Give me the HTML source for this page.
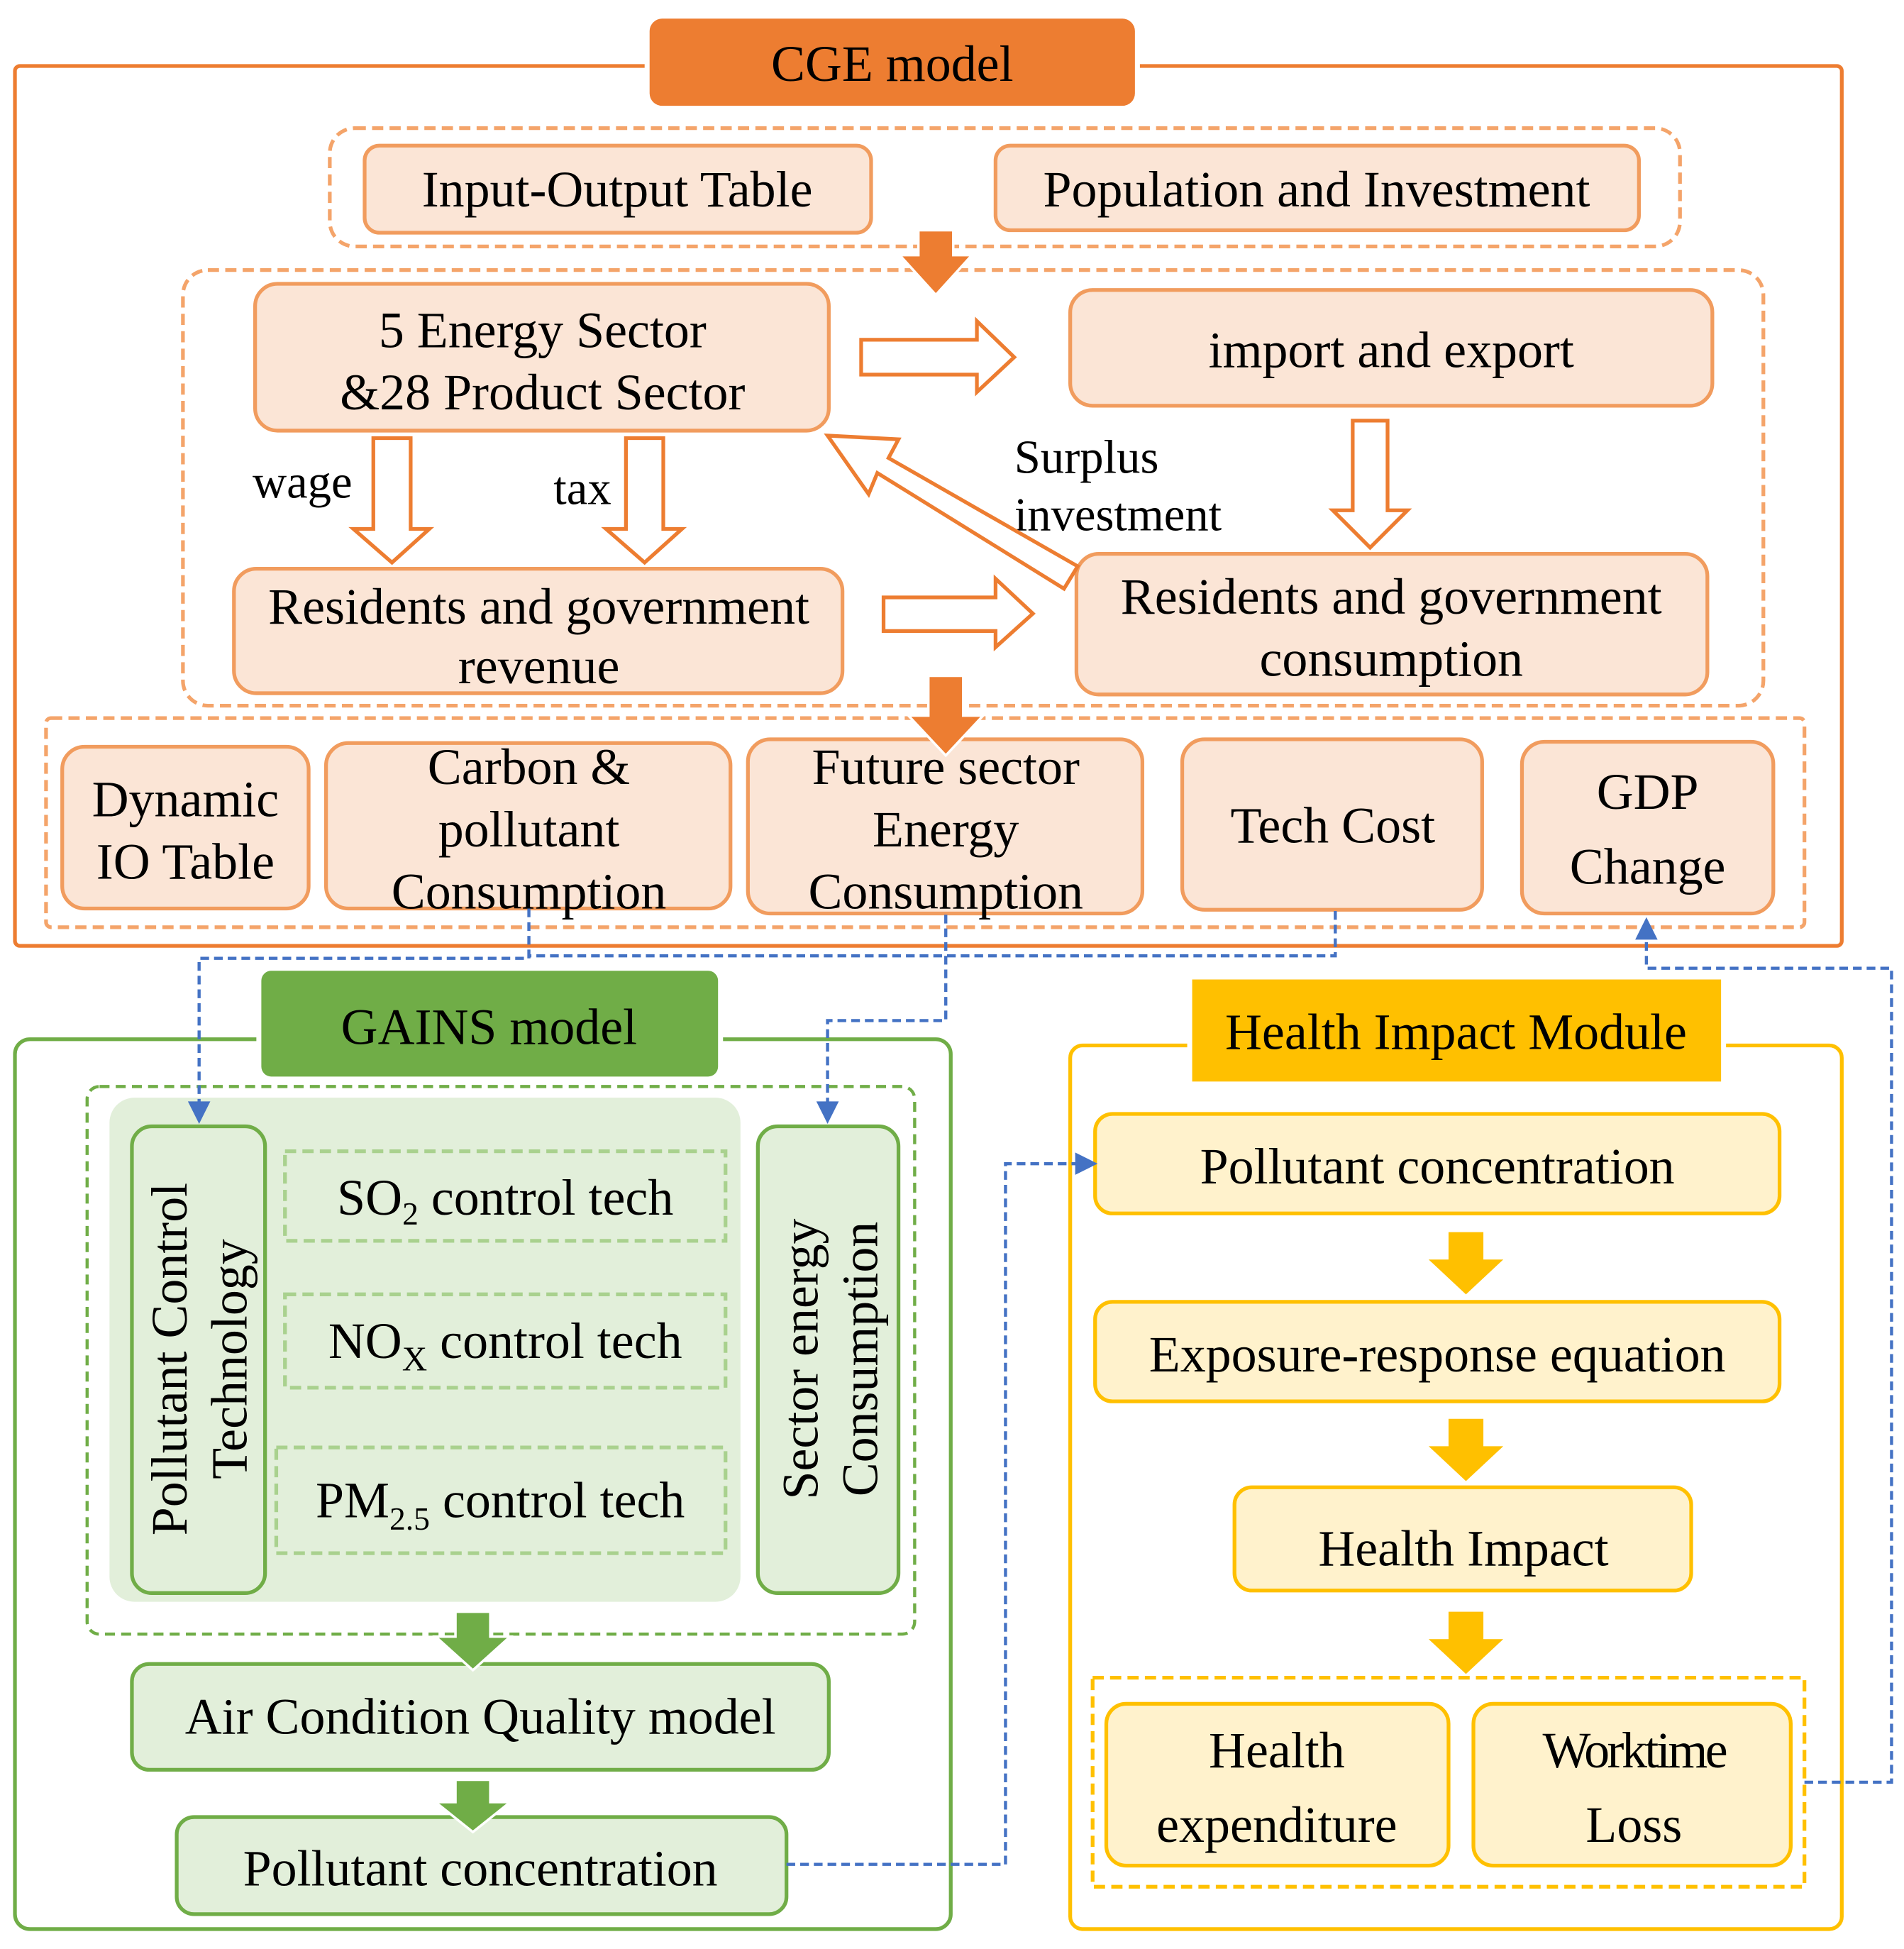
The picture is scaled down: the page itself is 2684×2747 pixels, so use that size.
<!DOCTYPE html>
<html><head><meta charset="utf-8"><style>html,body{margin:0;padding:0;background:#fff}svg{display:block}</style></head>
<body>
<svg width="2684" height="2747" viewBox="0 0 1530 1566" preserveAspectRatio="none" xmlns="http://www.w3.org/2000/svg" font-family="'Liberation Serif', serif" font-size="41" text-anchor="middle" fill="#000">
<!-- CGE -->
<rect x="12" y="53" width="1468" height="707" rx="4" fill="none" stroke="#ED7D31" stroke-width="3"/>
<rect x="518" y="12" width="398" height="76" fill="#fff"/>
<rect x="522" y="15" width="390" height="70" rx="10" fill="#ED7D31"/>
<text x="717" y="65">CGE model</text>
<g fill="none" stroke="#F4A46A" stroke-width="3" stroke-dasharray="9,5">
<rect x="265" y="103" width="1085" height="95" rx="20"/>
<rect x="147" y="217" width="1270" height="350" rx="20"/>
<rect x="37" y="577" width="1413" height="168" rx="4"/>
</g>
<g fill="#FBE5D6" stroke="#F19C5E" stroke-width="3">
<rect x="293" y="117" width="407" height="70" rx="12"/>
<rect x="800" y="117" width="517" height="68" rx="12"/>
<rect x="205" y="228" width="461" height="118" rx="18"/>
<rect x="860" y="233" width="516" height="93" rx="18"/>
<rect x="188" y="457" width="489" height="100" rx="18"/>
<rect x="865" y="445" width="507" height="113" rx="18"/>
<rect x="50" y="600" width="198" height="130" rx="18"/>
<rect x="262" y="597" width="325" height="133" rx="18"/>
<rect x="601" y="594" width="317" height="140" rx="18"/>
<rect x="950" y="594" width="241" height="137" rx="18"/>
<rect x="1223" y="596" width="202" height="138" rx="18"/>
</g>
<text x="496" y="166">Input-Output Table</text>
<text x="1058" y="166">Population and Investment</text>
<text x="436" y="279">5 Energy Sector</text>
<text x="436" y="329">&amp;28 Product Sector</text>
<text x="1118" y="295">import and export</text>
<text x="433" y="501">Residents and government</text>
<text x="433" y="549">revenue</text>
<text x="1118" y="493">Residents and government</text>
<text x="1118" y="543">consumption</text>
<text x="243" y="400" font-size="38">wage</text>
<text x="468" y="405" font-size="38">tax</text>
<text x="815" y="380" font-size="38" text-anchor="start">Surplus</text>
<text x="815" y="426" font-size="38" text-anchor="start">investment</text>
<text x="149" y="656">Dynamic</text><text x="149" y="706">IO Table</text>
<text x="425" y="630">Carbon &amp;</text><text x="425" y="680">pollutant</text><text x="425" y="730">Consumption</text>
<text x="760" y="630">Future sector</text><text x="760" y="680">Energy</text><text x="760" y="730">Consumption</text>
<text x="1071" y="677">Tech Cost</text>
<text x="1324" y="650">GDP</text><text x="1324" y="710">Change</text>
<!-- solid orange arrows -->
<path d="M738,185 H766 V205 H781 L752,237 L723,205 H738 Z" fill="#ED7D31" stroke="#fff" stroke-width="2"/>
<path d="M746,543 H774 V575 H790 L760,607 L730,575 H746 Z" fill="#ED7D31" stroke="#fff" stroke-width="2"/>
<!-- hollow arrows -->
<g fill="#fff" stroke="#ED7D31" stroke-width="3">
<path d="M692,273 H785 V258 L815,287 L785,315 V301 H692 Z"/>
<path d="M710,480 H800 V465 L830,493 L800,520 V507 H710 Z"/>
<path d="M300,352 H330 V425 H345 L315,452 L284,425 H300 Z"/>
<path d="M503,352 H533 V425 H548 L518,452 L487,425 H503 Z"/>
<path d="M1087,338 H1115 V410 H1131 L1101,440 L1071,410 H1087 Z"/>
<path d="M866,455 L855,473 L705,380 L698,397 L665,350 L722,353 L714,368 Z"/>
</g>
<!-- GAINS -->
<rect x="12" y="835" width="752" height="715" rx="12" fill="none" stroke="#70AD47" stroke-width="3"/>
<rect x="206" y="776" width="375" height="92" fill="#fff"/>
<rect x="210" y="780" width="367" height="85" rx="8" fill="#70AD47"/>
<text x="393" y="839">GAINS model</text>
<rect x="70" y="873" width="665" height="440" rx="10" fill="none" stroke="#70AD47" stroke-width="2.5" stroke-dasharray="8,5"/>
<rect x="88" y="882" width="507" height="405" rx="20" fill="#E2EFDA"/>
<g fill="#E2EFDA" stroke="#70AD47" stroke-width="3">
<rect x="106" y="905" width="107" height="375" rx="16"/>
<rect x="609" y="905" width="113" height="375" rx="16"/>
<rect x="106" y="1337" width="560" height="85" rx="14"/>
<rect x="142" y="1460" width="490" height="78" rx="14"/>
</g>
<g fill="none" stroke="#A9D18E" stroke-width="3" stroke-dasharray="9,5">
<rect x="229" y="925" width="354" height="72"/>
<rect x="229" y="1040" width="354" height="75"/>
<rect x="222" y="1163" width="361" height="85"/>
</g>
<text transform="translate(150,1092) rotate(-90)">Pollutant Control</text>
<text transform="translate(198,1092) rotate(-90)">Technology</text>
<text transform="translate(657,1092) rotate(-90)">Sector energy</text>
<text transform="translate(705,1092) rotate(-90)">Consumption</text>
<text x="406" y="976">SO<tspan font-size="26" dy="8">2</tspan><tspan dy="-8"> control tech</tspan></text>
<text x="406" y="1091">NO<tspan font-size="28" dy="10">X</tspan><tspan dy="-10"> control tech</tspan></text>
<text x="402" y="1219">PM<tspan font-size="26" dy="10">2.5</tspan><tspan dy="-10"> control tech</tspan></text>
<text x="386" y="1393">Air Condition Quality model</text>
<text x="386" y="1515">Pollutant concentration</text>
<path d="M366,1295 H394 V1315 H410 L380,1342 L350,1315 H366 Z" fill="#70AD47" stroke="#fff" stroke-width="2"/>
<path d="M366,1430 H394 V1448 H410 L380,1472 L350,1448 H366 Z" fill="#70AD47" stroke="#fff" stroke-width="2"/>
<!-- Health -->
<rect x="860" y="840" width="620" height="710" rx="10" fill="none" stroke="#FFC000" stroke-width="3"/>
<rect x="954" y="783" width="433" height="90" fill="#fff"/>
<rect x="958" y="787" width="425" height="82" fill="#FFC000"/>
<text x="1170" y="843">Health Impact Module</text>
<rect x="878" y="1348" width="572" height="168" fill="none" stroke="#FFC000" stroke-width="3" stroke-dasharray="9,5"/>
<g fill="#FFF2CC" stroke="#FFC000" stroke-width="3">
<rect x="880" y="895" width="550" height="80" rx="14"/>
<rect x="880" y="1046" width="550" height="80" rx="14"/>
<rect x="992" y="1195" width="367" height="83" rx="14"/>
<rect x="889" y="1369" width="275" height="130" rx="16"/>
<rect x="1184" y="1369" width="255" height="130" rx="16"/>
</g>
<text x="1155" y="951">Pollutant concentration</text>
<text x="1155" y="1102">Exposure-response equation</text>
<text x="1176" y="1258">Health Impact</text>
<text x="1026" y="1420">Health</text><text x="1026" y="1480">expenditure</text>
<text x="1313" y="1420" letter-spacing="-2">Worktime</text><text x="1313" y="1480">Loss</text>
<g fill="#FFC000">
<path d="M1164,990 H1192 V1012 H1208 L1178,1040 L1148,1012 H1164 Z"/>
<path d="M1164,1140 H1192 V1162 H1208 L1178,1190 L1148,1162 H1164 Z"/>
<path d="M1164,1295 H1192 V1317 H1208 L1178,1345 L1148,1317 H1164 Z"/>
</g>
<!-- blue dashed connectors -->
<g fill="none" stroke="#4472C4" stroke-width="2.5" stroke-dasharray="7,4">
<path d="M425,730 V770 H160 V888"/>
<path d="M1073,732 V768 H425"/>
<path d="M760,735 V820 H665 V888"/>
<path d="M1450,1432 H1520 V778 H1323 V752"/>
<path d="M632,1498 H808 V935 H866"/>
</g>
<g fill="#4472C4">
<path d="M151,885 L169,885 L160,903 Z"/>
<path d="M656,885 L674,885 L665,903 Z"/>
<path d="M1314,755 L1332,755 L1323,737 Z"/>
<path d="M864,926 L864,944 L882,935 Z"/>
</g>
</svg>
</body></html>
